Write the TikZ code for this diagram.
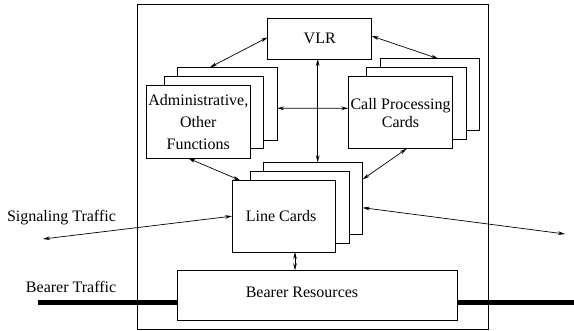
\documentclass[tikz,border=0pt]{standalone}
\usepackage{fontspec}
\setmainfont{Liberation Serif}
\usetikzlibrary{arrows.meta}
\begin{document}
\begin{tikzpicture}[x=1pt,y=-1pt,
  card/.style={draw,fill=white,line width=0.9pt,inner sep=0pt,outer sep=0pt,align=center,font=\fontsize{16}{19}\selectfont},
  lbl/.style={font=\fontsize{16}{19}\selectfont,inner sep=0pt,outer sep=0pt},
  conn/.style={line width=0.7pt,{Stealth[length=7pt,width=3.6pt]}-{Stealth[length=7pt,width=3.6pt]}},
  bearerline/.style={line width=4.5pt}]
\useasboundingbox (0,0) rectangle (574,330);
% frame
\node[card,minimum width=350.7pt,minimum height=324.3pt] (frame) at (312.65,166.85) {};
% VLR
\node[card,minimum width=104pt,minimum height=40.7pt] (vlr) at (319.7,38.65) {VLR};
% Administrative cards
\node[card,minimum width=99.3pt,minimum height=72.7pt] (a3) at (227.35,103.65) {};
\node[card,minimum width=99.4pt,minimum height=72pt] (a2) at (214,112.7) {};
\node[card,minimum width=104pt,minimum height=72.6pt,font=\fontsize{16}{22}\selectfont] (a1) at (198.3,122) {Administrative,\\Other\\Functions};
% Call processing cards
\node[card,minimum width=99pt,minimum height=72pt] (c3) at (429.8,94.7) {};
\node[card,minimum width=99.3pt,minimum height=72.4pt] (c2) at (416.35,103.5) {};
\node[card,minimum width=104.4pt,minimum height=72pt,font=\fontsize{16}{18}\selectfont] (c1) at (400.5,112.7) {Call Processing\\Cards};
% Line cards
\node[card,minimum width=99.4pt,minimum height=72pt] (l3) at (313,198.3) {};
\node[card,minimum width=99pt,minimum height=72pt] (l2) at (299.5,207.3) {};
\node[card,minimum width=103.3pt,minimum height=71.7pt] (l1) at (283.65,216.15) {\hspace*{-5pt}Line Cards};
% Bearer resources
\node[card,minimum width=279.6pt,minimum height=49.7pt] (bearer) at (317.5,295.15) {};
\node[lbl] (bearertxt) at (302,292.5) {Bearer Resources};
% outside labels
\node[lbl,anchor=base west] (sigtxt) at (7,221.7) {Signaling Traffic};
\node[lbl,anchor=base west] (beartxt) at (26,292.7) {Bearer Traffic};
% bearer traffic line
\coordinate (bl) at (38,302.3);
\coordinate (br) at (574,302.3);
\draw[bearerline] (bl) -- (bl -| bearer.west);
\draw[bearerline] (br -| bearer.east) -- (br);
% signaling endpoints
\coordinate (sigL) at (43,239);
\coordinate (sigR) at (565,234);
% connectors
\draw[conn] ([yshift=1.3pt]vlr.west) -- ([xshift=-17.4pt]a3.north);
\draw[conn] ([yshift=2.6pt]vlr.east) -- ([xshift=8.5pt]c3.north);
\draw[conn] ([xshift=-2pt]vlr.south) -- ([xshift=4.7pt]l3.north);
\draw[conn] ([yshift=-4.65pt]a3.east) -- ([yshift=4.4pt]c1.west);
\draw[conn] ([xshift=-10pt]a1.south) -- ([xshift=-43.65pt]l1.north);
\draw[conn] ([xshift=6.2pt]c1.south) -- ([yshift=19pt]l3.east);
\draw[conn] ([xshift=11.35pt]l1.south) -- ([xshift=-22.5pt]bearer.north);
\draw[conn] (l1.west) -- (sigL);
\draw[conn] ([yshift=-9.4pt]l3.east) -- (sigR);
\end{tikzpicture}
\end{document}
